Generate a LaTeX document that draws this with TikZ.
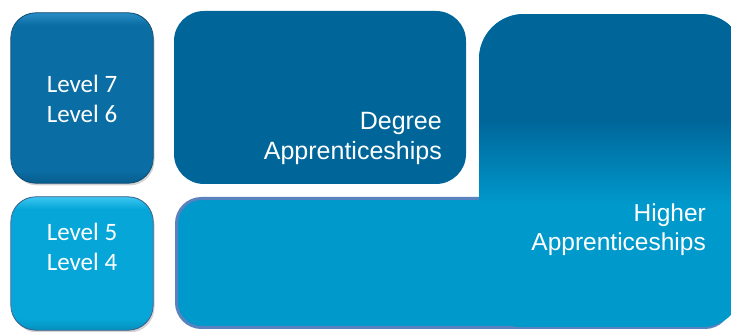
\documentclass[tikz,border=0pt]{standalone}
\usepackage{fontspec}
\newfontfamily\calib{Carlito}
\newfontfamily\arialf{Liberation Sans}
\usetikzlibrary{shadows}
\definecolor{dkblue}{HTML}{00669A}
\definecolor{ltblue}{HTML}{0099CC}
\definecolor{bordblue}{HTML}{5A82BE}
\definecolor{lvlsev}{HTML}{0A6DA4}
\definecolor{lvlsevhi}{HTML}{2A8CC4}
\definecolor{lvlsevdk}{HTML}{075C8C}
\definecolor{lvlsevln}{HTML}{0A4A72}
\definecolor{lvlfiv}{HTML}{06A7D8}
\definecolor{lvlfivhi}{HTML}{3CC6F0}
\definecolor{lvlfivdk}{HTML}{0590BD}
\definecolor{lvlfivln}{HTML}{3A5C8C}
\begin{document}
\begin{tikzpicture}[x=1pt,y=1pt,
  lvlbox/.style={rectangle, rounded corners=25pt, inner sep=0pt, minimum width=142pt,
    drop shadow={shadow xshift=1.5pt,shadow yshift=-2.5pt,opacity=.35}},
  lvltext/.style={text=white, align=center, font=\calib\fontsize{25}{30.5}\selectfont},
  apptext/.style={text=white, align=right, inner sep=0pt, anchor=north east}]
\useasboundingbox (0,0) rectangle (731,332);

% Level 7 / 6 box
\node[lvlbox, fill=lvlsev, minimum height=170pt] (lvlhi) at (82,234) {};
\begin{scope}
  \clip[rounded corners=25pt] (lvlhi.south west) rectangle (lvlhi.north east);
  \shade[top color=lvlsevhi, bottom color=lvlsev] ([yshift=-12pt]lvlhi.north west) rectangle (lvlhi.north east);
  \shade[top color=lvlsev, bottom color=lvlsevdk] (lvlhi.south west) rectangle ([yshift=12pt]lvlhi.south east);
\end{scope}
\draw[lvlsevln, line width=0.8pt, rounded corners=25pt] (lvlhi.south west) rectangle (lvlhi.north east);
\node[lvltext] (txthi) at (82,233) {Level 7\\Level 6};

% Level 5 / 4 box
\node[lvlbox, fill=lvlfiv, minimum height=133pt] (lvllo) at (82,68.5) {};
\begin{scope}
  \clip[rounded corners=25pt] (lvllo.south west) rectangle (lvllo.north east);
  \shade[top color=lvlfivhi, bottom color=lvlfiv] ([yshift=-12pt]lvllo.north west) rectangle (lvllo.north east);
  \shade[top color=lvlfiv, bottom color=lvlfivdk] (lvllo.south west) rectangle ([yshift=12pt]lvllo.south east);
\end{scope}
\draw[lvlfivln, line width=0.8pt, rounded corners=25pt] (lvllo.south west) rectangle (lvllo.north east);
\node[lvltext] (txtlo) at (82,85) {Level 5\\Level 4};

% Degree box
\node[rectangle, rounded corners=30pt, fill=dkblue, minimum width=292pt, minimum height=173pt, inner sep=0pt] (degree) at (320,234.5) {};
\node[apptext, font=\arialf\fontsize{25}{30}\selectfont] (degtext) at (442,220) {Degree\\Apprenticeships};

% Bottom wide box
\draw[bordblue, fill=ltblue, line width=3pt, rounded corners=25pt] (176.5,4.5) rectangle (730,133.5);

% Higher box with gradient
\begin{scope}
  \clip[rounded corners=45pt] (479,4.5) rectangle (745,318);
  \fill[ltblue] (479,4.5) rectangle (745,318);
  \fill[dkblue] (479,212) rectangle (745,318);
  \shade[top color=dkblue, bottom color=ltblue] (479,127) rectangle (745,212);
\end{scope}
\node[apptext, font=\arialf\fontsize{24.5}{28.5}\selectfont] (hightext) at (706,128) {Higher\\Apprenticeships};
\end{tikzpicture}
\end{document}
